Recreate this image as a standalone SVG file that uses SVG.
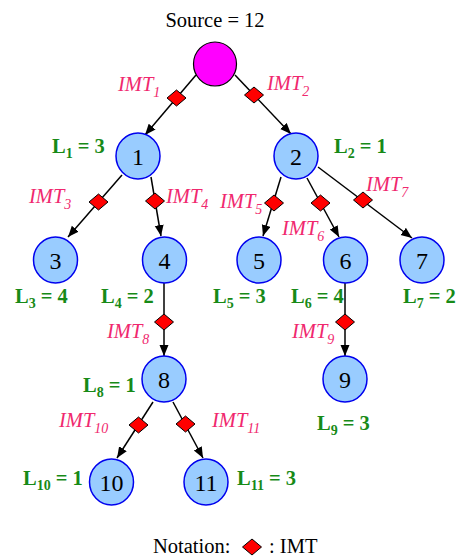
<svg xmlns="http://www.w3.org/2000/svg" xmlns:xlink="http://www.w3.org/1999/xlink" width="459" height="559" viewBox="0 0 459 559" font-family="'Liberation Serif', 'Times New Roman', Times, 'DejaVu Serif', serif">
<style>
text{font-family:'Liberation Serif','Times New Roman',Times,'DejaVu Serif',serif}
.node{fill:#99ccff;stroke:#0000ee;stroke-width:1.5}
.src{fill:#ff00ff;stroke:#000;stroke-width:1.2}
.num{font-size:24px;fill:#000;text-anchor:middle}
.edge{stroke:#000;stroke-width:1.5;fill:none}
.imt{font-style:italic;font-size:20.5px;fill:#f0286e}
.lab{font-weight:bold;font-size:20.5px;fill:#178a17}
.txt{font-size:20.5px;fill:#000}
.dia{fill:#ff0000;stroke:#000;stroke-width:1}
</style>
<defs>
<marker id="arr" markerUnits="userSpaceOnUse" markerWidth="12" markerHeight="10" refX="11" refY="4.5" orient="auto">
<path d="M0,0 L11,4.5 L0,9 Z" fill="#000"/>
</marker>
<path id="dm" class="dia" d="M0,-8 L9.5,0 L0,8 L-9.5,0 Z"/>
</defs>
<text class="txt" x="215" y="27" text-anchor="middle">Source = 12</text>
<g id="connectors">
<line class="edge" x1="196" y1="75" x2="145" y2="135" marker-end="url(#arr)"/>
<line class="edge" x1="235" y1="75" x2="291" y2="134" marker-end="url(#arr)"/>
<line class="edge" x1="122" y1="175" x2="68" y2="237" marker-end="url(#arr)"/>
<line class="edge" x1="151" y1="177" x2="161" y2="236" marker-end="url(#arr)"/>
<line class="edge" x1="281" y1="177" x2="263" y2="236" marker-end="url(#arr)"/>
<line class="edge" x1="307" y1="178" x2="339" y2="237" marker-end="url(#arr)"/>
<line class="edge" x1="318" y1="167" x2="412" y2="238" marker-end="url(#arr)"/>
<line class="edge" x1="164" y1="283" x2="164" y2="356" marker-end="url(#arr)"/>
<line class="edge" x1="345" y1="283" x2="345" y2="356" marker-end="url(#arr)"/>
<line class="edge" x1="153" y1="402" x2="117" y2="458" marker-end="url(#arr)"/>
<line class="edge" x1="173" y1="402" x2="203" y2="458" marker-end="url(#arr)"/>
<use xlink:href="#dm" x="176.5" y="98"/>
<use xlink:href="#dm" x="254" y="95"/>
<use xlink:href="#dm" x="98.5" y="202"/>
<use xlink:href="#dm" x="155" y="201"/>
<use xlink:href="#dm" x="274" y="203"/>
<use xlink:href="#dm" x="320.5" y="203"/>
<use xlink:href="#dm" x="363" y="200"/>
<use xlink:href="#dm" x="164" y="322"/>
<use xlink:href="#dm" x="345" y="322"/>
<use xlink:href="#dm" x="138.5" y="425"/>
<use xlink:href="#dm" x="185.5" y="424"/>
</g>
<g id="imt-labels">
<text class="imt" x="118" y="91">IMT<tspan font-size="14" dy="6">1</tspan></text>
<text class="imt" x="267" y="90">IMT<tspan font-size="14" dy="6">2</tspan></text>
<text class="imt" x="29" y="203">IMT<tspan font-size="14" dy="6">3</tspan></text>
<text class="imt" x="166" y="203">IMT<tspan font-size="14" dy="6">4</tspan></text>
<text class="imt" x="220" y="208">IMT<tspan font-size="14" dy="6">5</tspan></text>
<text class="imt" x="282" y="235">IMT<tspan font-size="14" dy="6">6</tspan></text>
<text class="imt" x="366" y="191">IMT<tspan font-size="14" dy="6">7</tspan></text>
<text class="imt" x="107" y="338">IMT<tspan font-size="14" dy="6">8</tspan></text>
<text class="imt" x="292" y="338">IMT<tspan font-size="14" dy="6">9</tspan></text>
<text class="imt" x="59" y="427">IMT<tspan font-size="14" dy="6">10</tspan></text>
<text class="imt" x="212" y="427">IMT<tspan font-size="14" dy="6">11</tspan></text>
</g>
<g id="source"><ellipse class="src" cx="215" cy="64" rx="21.5" ry="22"/></g>
<g id="n1"><ellipse class="node" cx="138" cy="156" rx="22" ry="23"/><text class="num" x="138" y="164.5">1</text></g>
<g id="n2"><ellipse class="node" cx="296" cy="156" rx="22" ry="23"/><text class="num" x="296" y="164.5">2</text></g>
<g id="n3"><ellipse class="node" cx="55.5" cy="260" rx="22" ry="23"/><text class="num" x="55.5" y="268.5">3</text></g>
<g id="n4"><ellipse class="node" cx="164.5" cy="260" rx="22" ry="23"/><text class="num" x="164.5" y="268.5">4</text></g>
<g id="n5"><ellipse class="node" cx="259" cy="260" rx="22" ry="23"/><text class="num" x="259" y="268.5">5</text></g>
<g id="n6"><ellipse class="node" cx="345.5" cy="260" rx="22" ry="23"/><text class="num" x="345.5" y="268.5">6</text></g>
<g id="n7"><ellipse class="node" cx="422" cy="260" rx="22" ry="23"/><text class="num" x="422" y="268.5">7</text></g>
<g id="n8"><ellipse class="node" cx="164" cy="379" rx="22" ry="23"/><text class="num" x="164" y="387.5">8</text></g>
<g id="n9"><ellipse class="node" cx="345" cy="379" rx="22" ry="23"/><text class="num" x="345" y="387.5">9</text></g>
<g id="n10"><ellipse class="node" cx="111.5" cy="482" rx="22" ry="23"/><text class="num" x="111.5" y="490.5">10</text></g>
<g id="n11"><ellipse class="node" cx="206" cy="482" rx="22" ry="23"/><text class="num" x="206" y="490.5">11</text></g>
<g id="load-labels">
<text class="lab" x="52" y="153">L<tspan font-size="14" dy="5">1</tspan><tspan dy="-5"> = 3</tspan></text>
<text class="lab" x="334" y="153">L<tspan font-size="14" dy="5">2</tspan><tspan dy="-5"> = 1</tspan></text>
<text class="lab" x="15" y="303">L<tspan font-size="14" dy="5">3</tspan><tspan dy="-5"> = 4</tspan></text>
<text class="lab" x="101" y="303">L<tspan font-size="14" dy="5">4</tspan><tspan dy="-5"> = 2</tspan></text>
<text class="lab" x="213" y="303">L<tspan font-size="14" dy="5">5</tspan><tspan dy="-5"> = 3</tspan></text>
<text class="lab" x="291" y="303">L<tspan font-size="14" dy="5">6</tspan><tspan dy="-5"> = 4</tspan></text>
<text class="lab" x="403" y="303">L<tspan font-size="14" dy="5">7</tspan><tspan dy="-5"> = 2</tspan></text>
<text class="lab" x="83" y="392">L<tspan font-size="14" dy="5">8</tspan><tspan dy="-5"> = 1</tspan></text>
<text class="lab" x="317" y="430">L<tspan font-size="14" dy="5">9</tspan><tspan dy="-5"> = 3</tspan></text>
<text class="lab" x="23" y="485">L<tspan font-size="14" dy="5">10</tspan><tspan dy="-5"> = 1</tspan></text>
<text class="lab" x="237" y="485">L<tspan font-size="14" dy="5">11</tspan><tspan dy="-5"> = 3</tspan></text>
</g>
<g id="notation">
<text class="txt" x="153" y="553">Notation:</text>
<use xlink:href="#dm" x="252" y="547"/>
<text class="txt" x="269" y="553">: IMT</text>
</g>
</svg>
